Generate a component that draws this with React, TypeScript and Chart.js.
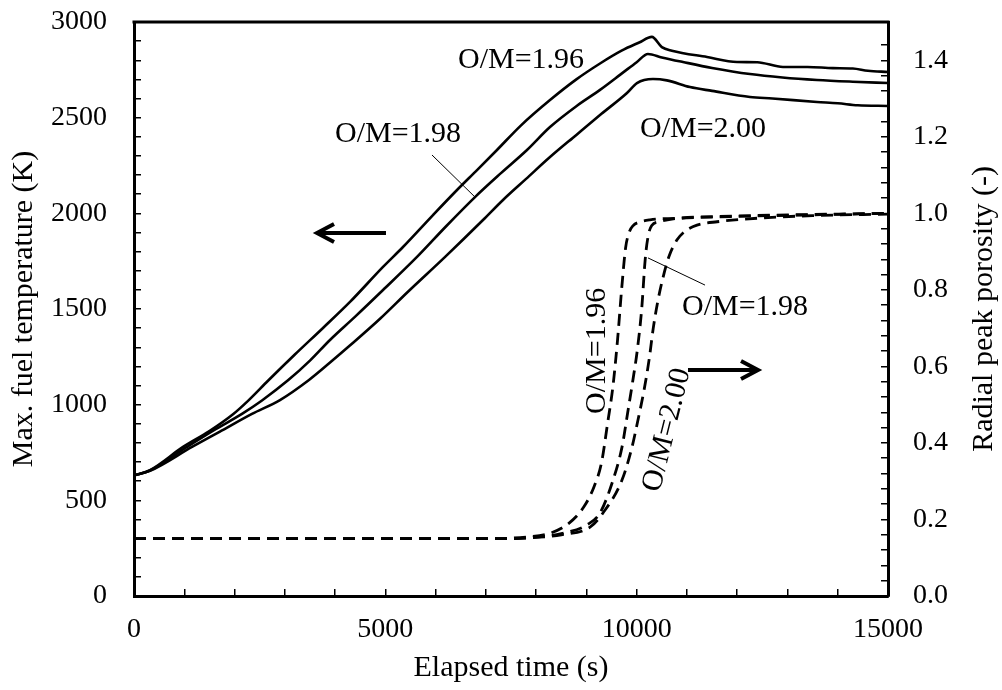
import React, { useEffect, useRef } from 'react';
import { Chart, registerables } from 'chart.js';

Chart.register(...registerables);

// ---- Max. fuel temperature (K), left axis ----
const T196_X = [0, 318, 975, 1500, 1970, 2268, 2666, 3200, 3760, 4297, 4954, 5351, 5948, 6426, 6824, 7221, 7700, 8276, 8800, 9271, 9700, 10050, 10302, 10500, 10700, 11399, 11995, 12400, 12910, 13400, 13905, 14300, 14600, 15000];
const T196_Y = [630, 658, 779, 862, 950, 1020, 1125, 1262, 1401, 1537, 1720, 1824, 1991, 2122, 2226, 2331, 2460, 2592, 2700, 2783, 2850, 2893, 2922, 2869, 2850, 2817, 2791, 2790, 2765, 2765, 2759, 2757, 2745, 2739];

const T198_X = [0, 318, 1054, 1600, 2148, 2546, 3064, 3500, 3899, 4400, 4954, 5630, 6200, 6784, 7300, 7818, 8276, 8800, 9271, 9700, 10000, 10225, 10500, 10921, 11500, 12255, 12900, 13587, 14300, 15000];
const T198_Y = [630, 656, 779, 868, 952, 1022, 1127, 1230, 1338, 1460, 1599, 1772, 1930, 2085, 2210, 2331, 2451, 2560, 2645, 2730, 2790, 2833, 2815, 2791, 2760, 2728, 2710, 2697, 2688, 2681];

const T200_X = [0, 318, 1154, 1700, 2347, 2904, 3481, 3900, 4300, 4900, 5450, 6200, 6943, 7341, 7800, 8276, 8800, 9300, 9807, 10006, 10325, 10600, 11061, 11500, 12255, 12700, 13587, 14000, 14400, 15000];
const T200_Y = [630, 654, 779, 858, 952, 1024, 1129, 1220, 1310, 1450, 1590, 1775, 1965, 2070, 2180, 2294, 2410, 2520, 2629, 2681, 2702, 2695, 2660, 2640, 2608, 2600, 2582, 2575, 2565, 2561];

// ---- Radial peak porosity (-), right axis ----
const P196_X = [0, 7000, 7800, 8300, 8650, 8950, 9150, 9300, 9420, 9530, 9620, 9700, 9780, 9850, 9930, 10050, 10265, 11000, 12000, 13500, 15000];
const P196_Y = [0.15, 0.15, 0.154, 0.165, 0.19, 0.233, 0.285, 0.348, 0.45, 0.55, 0.67, 0.80, 0.91, 0.95, 0.968, 0.977, 0.983, 0.988, 0.992, 0.996, 1.0];

const P198_X = [0, 7500, 8000, 8500, 9012, 9271, 9530, 9708, 9820, 9920, 10010, 10100, 10170, 10225, 10300, 10450, 10700, 12000, 13500, 15000];
const P198_Y = [0.15, 0.15, 0.154, 0.163, 0.186, 0.217, 0.303, 0.389, 0.478, 0.56, 0.64, 0.75, 0.88, 0.938, 0.968, 0.978, 0.985, 0.993, 0.997, 1.0];

const P200_X = [0, 7500, 8000, 8500, 9072, 9330, 9708, 9907, 10026, 10150, 10250, 10330, 10420, 10520, 10650, 10800, 10950, 11200, 11600, 12500, 13500, 15000];
const P200_Y = [0.15, 0.15, 0.153, 0.16, 0.18, 0.217, 0.303, 0.389, 0.46, 0.54, 0.62, 0.70, 0.77, 0.83, 0.89, 0.93, 0.952, 0.969, 0.978, 0.988, 0.994, 0.998];

// ---- axes ----
const X_LABELS = [0, 5000, 10000, 15000];
const Y_LABELS = [0, 500, 1000, 1500, 2000, 2500, 3000];
const Y1_LABELS = [0, 0.2, 0.4, 0.6, 0.8, 1.0, 1.2, 1.4];
const X_TITLE = 'Elapsed time (s)';
const Y_TITLE = 'Max. fuel temperature (K)';
const Y1_TITLE = 'Radial peak porosity (-)';

// ---- annotations (data coordinates on x / left axis) ----
const LABEL_TEXTS = ['O/M=1.96', 'O/M=1.98', 'O/M=2.00', 'O/M=1.98', 'O/M=1.96', 'O/M=2.00'];
const LABEL_X = [6446, 3999, 10066, 10902, 9211, 10604];
const LABEL_T = [2760, 2373, 2399, 1469, 1281, 868];
const LABEL_ANGLE = [0, 0, 0, 0, -90, -76];
const POINTER_X1 = [5928, 10225];
const POINTER_T1 = [2305, 1767];
const POINTER_X2 = [6784, 11360];
const POINTER_T2 = [2085, 1625];
const ARROW_TAIL_X = [5013, 11021];
const ARROW_HEAD_X = [3641, 12414];
const ARROW_T = [1897, 1181];

const FONT = '"Liberation Serif", "Times New Roman", serif';

const zip = (xs: number[], ys: number[]) => xs.map((x, i) => ({ x, y: ys[i] }));
const near = (list: number[], v: number) => list.some((l) => Math.abs(l - v) < 1e-6);

const overlay = {
  id: 'overlay',
  afterDraw(chart: any) {
    const { ctx, chartArea: ca, scales } = chart;
    const xs = scales.x;
    const ys = scales.y;
    ctx.save();
    // top frame line
    ctx.strokeStyle = '#000';
    ctx.lineWidth = 3;
    ctx.beginPath();
    ctx.moveTo(ca.left - 1.5, ca.top);
    ctx.lineTo(ca.right + 1.5, ca.top);
    ctx.stroke();

    ctx.fillStyle = '#000';
    // titles
    ctx.font = `30px ${FONT}`;
    ctx.textAlign = 'center';
    ctx.textBaseline = 'middle';
    ctx.fillText(X_TITLE, (ca.left + ca.right) / 2, 668);
    ctx.save();
    ctx.translate(24, (ca.top + ca.bottom) / 2);
    ctx.rotate(-Math.PI / 2);
    ctx.fillText(Y_TITLE, 0, 0);
    ctx.restore();
    ctx.save();
    ctx.translate(984, (ca.top + ca.bottom) / 2);
    ctx.rotate(-Math.PI / 2);
    ctx.fillText(Y1_TITLE, 0, 0);
    ctx.restore();

    // labels
    ctx.font = `30px ${FONT}`;
    LABEL_TEXTS.forEach((t, i) => {
      const px = xs.getPixelForValue(LABEL_X[i]);
      const py = ys.getPixelForValue(LABEL_T[i]);
      const a = LABEL_ANGLE[i];
      ctx.save();
      ctx.translate(px, py);
      if (a === 0) {
        ctx.textAlign = 'left';
        ctx.textBaseline = 'alphabetic';
      } else {
        ctx.rotate((a * Math.PI) / 180);
        ctx.textAlign = 'center';
        ctx.textBaseline = 'middle';
      }
      ctx.fillText(t, 0, 0);
      ctx.restore();
    });

    // pointer lines
    ctx.lineWidth = 1;
    ctx.strokeStyle = '#000';
    POINTER_X1.forEach((_, i) => {
      ctx.beginPath();
      ctx.moveTo(xs.getPixelForValue(POINTER_X1[i]), ys.getPixelForValue(POINTER_T1[i]));
      ctx.lineTo(xs.getPixelForValue(POINTER_X2[i]), ys.getPixelForValue(POINTER_T2[i]));
      ctx.stroke();
    });

    // arrows
    ctx.lineWidth = 4;
    ctx.lineCap = 'butt';
    ctx.lineJoin = 'miter';
    ARROW_T.forEach((t, i) => {
      const y = ys.getPixelForValue(t);
      const x1 = xs.getPixelForValue(ARROW_TAIL_X[i]);
      const x2 = xs.getPixelForValue(ARROW_HEAD_X[i]);
      const dir = x2 > x1 ? 1 : -1;
      ctx.beginPath();
      ctx.moveTo(x1, y);
      ctx.lineTo(x2 - dir * 2, y);
      ctx.stroke();
      ctx.beginPath();
      ctx.moveTo(x2 - dir * 17, y - 9);
      ctx.lineTo(x2, y);
      ctx.lineTo(x2 - dir * 17, y + 9);
      ctx.stroke();
    });
    ctx.restore();
  },
};

export default function App() {
  const ref = useRef<HTMLCanvasElement | null>(null);
  useEffect(() => {
    if (!ref.current) return;
    const solid = { borderColor: '#000', borderWidth: 2.6, pointRadius: 0, fill: false, cubicInterpolationMode: 'monotone' as const, yAxisID: 'y' };
    const dashed = { borderColor: '#000', borderWidth: 2.8, borderDash: [12, 7], pointRadius: 0, fill: false, cubicInterpolationMode: 'monotone' as const, yAxisID: 'y1' };
    const grid = { display: true, drawOnChartArea: false, drawTicks: true, tickLength: -7, color: '#000', lineWidth: 1.5 };
    const border = { display: true, color: '#000', width: 3 };
    const tickFont = { family: FONT, size: 28 };
    const noPad = (s: any) => { s.paddingTop = 0; s.paddingBottom = 0; s.paddingLeft = 0; s.paddingRight = 0; };
    const chart = new Chart(ref.current, {
      type: 'line',
      data: {
        datasets: [
          { ...solid, label: 'T O/M=1.96', data: zip(T196_X, T196_Y) },
          { ...solid, label: 'T O/M=1.98', data: zip(T198_X, T198_Y) },
          { ...solid, label: 'T O/M=2.00', data: zip(T200_X, T200_Y) },
          { ...dashed, label: 'P O/M=1.96', data: zip(P196_X, P196_Y) },
          { ...dashed, label: 'P O/M=1.98', data: zip(P198_X, P198_Y) },
          { ...dashed, label: 'P O/M=2.00', data: zip(P200_X, P200_Y) },
        ],
      },
      options: {
        responsive: false,
        animation: false,
        events: [],
        layout: { padding: { top: 22, left: 0, right: 0, bottom: 0 } },
        plugins: { legend: { display: false }, tooltip: { enabled: false }, title: { display: false } },
        scales: {
          x: {
            type: 'linear',
            position: 'bottom',
            min: 0,
            max: 15000,
            grid,
            border,
            ticks: {
              stepSize: 1000,
              autoSkip: false,
              maxRotation: 0,
              padding: 24,
              color: '#000',
              font: tickFont,
              callback: (v: any) => (near(X_LABELS, Number(v)) ? String(v) : ''),
            },
            afterFit: (s: any) => { s.height = 94; noPad(s); },
          },
          y: {
            type: 'linear',
            position: 'left',
            min: 0,
            max: 3000,
            grid,
            border,
            ticks: {
              stepSize: 100,
              autoSkip: false,
              padding: 34,
              color: '#000',
              font: tickFont,
              callback: (v: any) => (near(Y_LABELS, Number(v)) ? String(v) : ''),
            },
            afterFit: (s: any) => { s.width = 134; noPad(s); },
          },
          y1: {
            type: 'linear',
            position: 'right',
            min: 0,
            max: 1.5,
            grid,
            border,
            ticks: {
              stepSize: 0.04,
              autoSkip: false,
              padding: 32,
              color: '#000',
              font: tickFont,
              callback: (v: any) => (near(Y1_LABELS, Number(v)) ? Number(v).toFixed(1) : ''),
            },
            afterFit: (s: any) => { s.width = 114; noPad(s); },
          },
        },
      },
      plugins: [overlay],
    });
    return () => chart.destroy();
  }, []);
  return (
    <div style={{ position: 'absolute', left: 0, top: 0, width: 1002, height: 690, background: '#fff' }}>
      <canvas ref={ref} width={1002} height={690} style={{ display: 'block' }} />
    </div>
  );
}
